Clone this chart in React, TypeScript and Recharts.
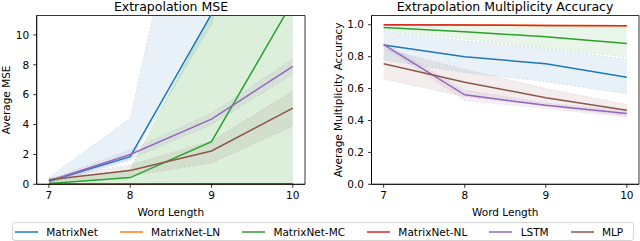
import React from 'react';
import { ComposedChart, Line, Area, XAxis, YAxis, ReferenceArea } from 'recharts';

const wordLengths = [7, 8, 9, 10];
const seriesNames = ['MatrixNet', 'MatrixNet-LN', 'MatrixNet-MC', 'MatrixNet-NL', 'LSTM', 'MLP'];
const seriesColors = ['#1f77b4', '#ff7f0e', '#2ca02c', '#d62728', '#9467bd', '#8c564b'];

// Extrapolation MSE (means and band low/high)
const mseMatrixNet = [0.2, 1.85, 11.4, 40];
const mseMatrixNetLow = [0.05, 1.6, 10.7, 30];
const mseMatrixNetHigh = [0.45, 4.4, 29, 60];
const mseMatrixNetLN = [0.0, 0.0, 0.0, 0.0];
const mseMatrixNetMC = [0.05, 0.45, 2.86, 12.25];
const mseMatrixNetMCLow = [0, 0, 0, 0];
const mseMatrixNetMCHigh = [0.2, 1.0, 11.5, 30];
const mseMatrixNetNL = [0.02, 0.02, 0.03, 0.04];
const mseLSTM = [0.22, 2.0, 4.36, 7.9];
const mseLSTMLow = [0.12, 1.7, 4.0, 7.35];
const mseLSTMHigh = [0.32, 2.3, 4.75, 8.4];
const mseMLP = [0.3, 0.92, 2.23, 5.1];
const mseMLPLow = [0.2, 0.55, 1.43, 3.9];
const mseMLPHigh = [0.4, 1.3, 2.9, 6.25];

// Extrapolation Multiplicity Accuracy
const accMatrixNet = [0.873, 0.8, 0.755, 0.671];
const accMatrixNetLow = [0.78, 0.7, 0.645, 0.566];
const accMatrixNetHigh = [0.96, 0.9, 0.85, 0.785];
const accMatrixNetLN = [1.0, 0.999, 0.996, 0.993];
const accMatrixNetMC = [0.983, 0.956, 0.925, 0.883];
const accMatrixNetMCLow = [0.967, 0.91, 0.855, 0.797];
const accMatrixNetMCHigh = [0.999, 1.0, 0.99, 0.98];
const accMatrixNetNL = [1.0, 0.999, 0.996, 0.993];
const accLSTM = [0.875, 0.561, 0.495, 0.443];
const accLSTMLow = [0.86, 0.525, 0.475, 0.42];
const accLSTMHigh = [0.89, 0.59, 0.51, 0.46];
const accMLP = [0.755, 0.64, 0.543, 0.464];
const accMLPLow = [0.66, 0.55, 0.49, 0.43];
const accMLPHigh = [0.85, 0.72, 0.6, 0.5];

const mseTicks = [0, 2, 4, 6, 8, 10];
const accTicks = [0, 0.2, 0.4, 0.6, 0.8, 1.0];

type Band = [number[], number[]] | null;

function buildRows(means: number[][], bands: Band[]) {
  return wordLengths.map((x, i) => {
    const row: Record<string, any> = { x };
    means.forEach((m, s) => {
      row['s' + s] = m[i];
      const b = bands[s];
      if (b) row['b' + s] = [b[0][i], b[1][i]];
    });
    return row;
  });
}

const mseRows = buildRows(
  [mseMatrixNet, mseMatrixNetLN, mseMatrixNetMC, mseMatrixNetNL, mseLSTM, mseMLP],
  [
    [mseMatrixNetLow, mseMatrixNetHigh],
    null,
    [mseMatrixNetMCLow, mseMatrixNetMCHigh],
    null,
    [mseLSTMLow, mseLSTMHigh],
    [mseMLPLow, mseMLPHigh],
  ]
);

const accRows = buildRows(
  [accMatrixNet, accMatrixNetLN, accMatrixNetMC, accMatrixNetNL, accLSTM, accMLP],
  [
    [accMatrixNetLow, accMatrixNetHigh],
    null,
    [accMatrixNetMCLow, accMatrixNetMCHigh],
    null,
    [accLSTMLow, accLSTMHigh],
    [accMLPLow, accMLPHigh],
  ]
);

const FONT = 'DejaVu Sans';
const tickStyle = { fontSize: 10.5, fill: '#000', fontFamily: FONT };
const X_DOMAIN: [number, number] = [6.85, 10.15];

function Panel(props: {
  rows: any[];
  yMax: number;
  yTicks: number[];
  yLabel: string;
  yAxisWidth: number;
  marginRight: number;
  yLabelOffset: number;
  bandOpacity: number[];
  fmt: (v: number) => string;
}) {
  const { rows, yMax, yTicks, yLabel, yAxisWidth, marginRight, yLabelOffset, bandOpacity, fmt } = props;
  return (
    <ComposedChart
      width={320}
      height={220}
      data={rows}
      margin={{ top: 15.5, right: marginRight, bottom: 0, left: 0 }}
    >
      <XAxis
        dataKey="x"
        type="number"
        domain={X_DOMAIN}
        ticks={wordLengths}
        allowDataOverflow
        height={35.7}
        tickSize={3.5}
        tickMargin={4}
        tick={tickStyle}
        axisLine={{ stroke: '#000', strokeWidth: 0.8 }}
        tickLine={{ stroke: '#000', strokeWidth: 0.8 }}
        label={{
          value: 'Word Length',
          position: 'insideBottom',
          offset: 4.5,
          style: { fontSize: 10.5, fill: '#000', fontFamily: FONT },
        }}
      />
      <YAxis
        type="number"
        domain={[0, yMax]}
        ticks={yTicks}
        allowDataOverflow
        width={yAxisWidth}
        tickSize={3.5}
        tickMargin={4}
        tick={tickStyle}
        tickFormatter={fmt}
        axisLine={{ stroke: '#000', strokeWidth: 0.8 }}
        tickLine={{ stroke: '#000', strokeWidth: 0.8 }}
        label={{
          value: yLabel,
          angle: -90,
          position: 'insideLeft',
          offset: yLabelOffset,
          style: { fontSize: 10.5, fill: '#000', fontFamily: FONT, textAnchor: 'middle' },
        }}
      />
      {seriesColors.map((c, s) =>
        rows[0]['b' + s] ? (
          <Area
            key={'b' + s}
            dataKey={'b' + s}
            type="linear"
            fill={c}
            fillOpacity={bandOpacity[s]}
            stroke={c}
            strokeOpacity={0.2}
            strokeWidth={0.8}
            strokeDasharray="2 2"
            dot={false}
            activeDot={false}
            isAnimationActive={false}
          />
        ) : null
      )}
      {seriesColors.map((c, s) => (
        <Line
          key={'s' + s}
          dataKey={'s' + s}
          type="linear"
          stroke={c}
          strokeWidth={1.5}
          dot={false}
          activeDot={false}
          isAnimationActive={false}
        />
      ))}
      <ReferenceArea
        x1={X_DOMAIN[0]}
        x2={X_DOMAIN[1]}
        y1={0}
        y2={yMax}
        fill="none"
        stroke="#000"
        strokeWidth={0.8}
        ifOverflow="visible"
      />
    </ComposedChart>
  );
}

export default function App() {
  return (
    <div
      style={{
        position: 'absolute',
        left: 0,
        top: 0,
        width: 640,
        height: 241,
        background: '#fff',
        fontFamily: FONT,
        overflow: 'hidden',
      }}
    >
      <svg width={640} height={16} style={{ position: 'absolute', left: 0, top: 0 }}>
        <text x={171} y={11} textAnchor="middle" fontSize={12.5} fontFamily={FONT} fill="#000">
          Extrapolation MSE
        </text>
        <text x={505} y={11} textAnchor="middle" fontSize={12.5} fontFamily={FONT} fill="#000">
          Extrapolation Multiplicity Accuracy
        </text>
      </svg>
      <div style={{ position: 'absolute', left: 0, top: 0 }}>
        <Panel
          rows={mseRows}
          yMax={11.3}
          yTicks={mseTicks}
          yLabel="Average MSE"
          yAxisWidth={36.7}
          marginRight={15}
          yLabelOffset={6}
          bandOpacity={[0.1, 0.1, 0.17, 0.1, 0.1, 0.1]}
          fmt={(v) => String(v)}
        />
      </div>
      <div style={{ position: 'absolute', left: 320, top: 0 }}>
        <Panel
          rows={accRows}
          yMax={1.058}
          yTicks={accTicks}
          yLabel="Average Multiplicity Accuracy"
          yAxisWidth={51.5}
          marginRight={1}
          yLabelOffset={18}
          bandOpacity={[0.1, 0.1, 0.1, 0.1, 0.1, 0.1]}
          fmt={(v) => v.toFixed(1)}
        />
      </div>
      <div
        style={{
          position: 'absolute',
          left: 11.5,
          top: 222,
          width: 622,
          height: 19,
          boxSizing: 'border-box',
          border: '1px solid #d4d4d4',
          borderRadius: 3,
          display: 'flex',
          alignItems: 'center',
          paddingLeft: 2.5,
          gap: 22,
          fontSize: 10.5,
          color: '#000',
          whiteSpace: 'nowrap',
        }}
      >
        {seriesNames.map((n, s) => (
          <div key={n} style={{ display: 'flex', alignItems: 'center' }}>
            <svg width={23} height={6} style={{ marginRight: 8.3, display: 'block' }}>
              <line x1={0} y1={3} x2={23} y2={3} stroke={seriesColors[s]} strokeWidth={1.5} />
            </svg>
            <span>{n}</span>
          </div>
        ))}
      </div>
    </div>
  );
}
